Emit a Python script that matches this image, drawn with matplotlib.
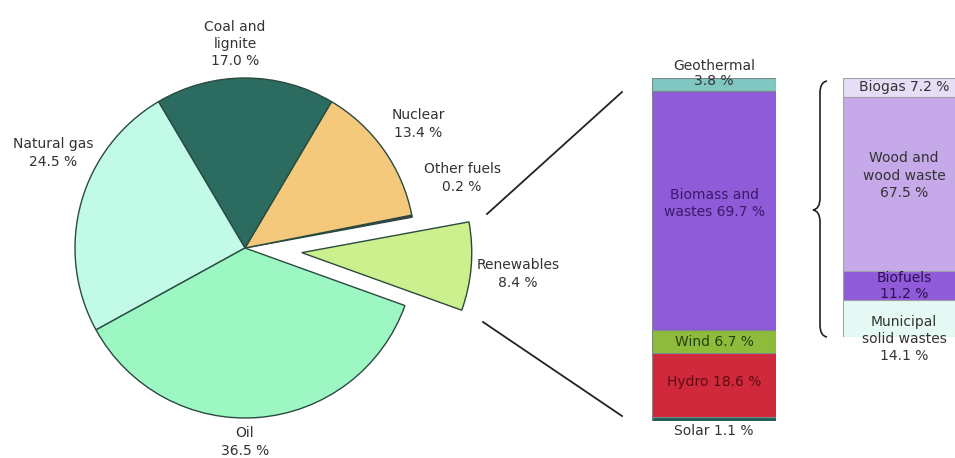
import matplotlib
matplotlib.use("Agg")
import matplotlib.pyplot as plt
from matplotlib.path import Path
from matplotlib.patches import PathPatch

# ---------------- data ----------------
pie_labels = ["Renewables", "Other fuels", "Nuclear", "Coal and\nlignite", "Natural gas", "Oil"]
pie_values = [8.4, 0.2, 13.4, 17.0, 24.5, 36.5]
pie_colors = ["#cdf08e", "#5b2a5e", "#f5c97c", "#2c6b5f", "#c2fae8", "#9df7c2"]

ren_labels = ["Solar", "Hydro", "Wind", "Biomass and\nwastes", "Geothermal"]
ren_values = [1.1, 18.6, 6.7, 69.7, 3.8]
ren_colors = ["#1f5f57", "#d0293b", "#8fbb3c", "#8f5bd8", "#80c6c1"]

bio_labels = ["Municipal\nsolid wastes", "Biofuels", "Wood and\nwood waste", "Biogas"]
bio_values = [14.1, 11.2, 67.5, 7.2]
bio_colors = ["#e6faf5", "#8f5bd8", "#c6a9e9", "#e8ddf6"]

W, H = 955, 458
TXT = "#333333"
FS = 10
LS = 1.3

fig = plt.figure(figsize=(W / 100, H / 100), dpi=100)
fig.patch.set_facecolor("white")


def fax(left, top, width, height):
    """axes from pixel box (top-left origin)"""
    return fig.add_axes([left / W, (H - top - height) / H, width / W, height / H])


# ---------------- pie ----------------
R = 170.0
cx, cy = 245, 248
half = 1.5 * R
axp = fax(cx - half, cy - half, 2 * half, 2 * half)
explode = [0.335, 0, 0, 0, 0, 0]
axp.pie(pie_values, colors=pie_colors, startangle=-19.8, counterclock=True,
        explode=explode, radius=1,
        wedgeprops=dict(edgecolor="#2a4a40", linewidth=1.0))
axp.set_xlim(-1.5, 1.5)
axp.set_ylim(-1.5, 1.5)
axp.set_aspect("equal")
axp.axis("off")

pie_label_px = [(518, 274), (462, 178), (418, 124), (235, 44), (53, 153), (245, 442)]
for lab, val, (px, py) in zip(pie_labels, pie_values, pie_label_px):
    axp.text((px - cx) / R, (cy - py) / R, f"{lab}\n{val:.1f} %", ha="center", va="center",
             fontsize=FS, color=TXT, linespacing=LS)

# ---------------- renewables bar ----------------
axb = fax(652, 78, 124, 343)
bottom = 0
for lab, val, col in zip(ren_labels, ren_values, ren_colors):
    axb.bar(0, val, bottom=bottom, width=1, color=col, edgecolor="#7a8a88", linewidth=0.8)
    bottom += val
axb.set_xlim(-0.5, 0.5)
axb.set_ylim(0, sum(ren_values))
axb.axis("off")

tot = sum(ren_values)
cum = [sum(ren_values[:i]) for i in range(len(ren_values))]
# Solar (below bar)
axb.text(0, -0.03 * tot, f"{ren_labels[0]} {ren_values[0]:.1f} %", ha="center", va="center",
         fontsize=FS, color=TXT, clip_on=False)
axb.text(0, cum[1] + ren_values[1] / 2 + 0.01 * tot, f"{ren_labels[1]} {ren_values[1]:.1f} %",
         ha="center", va="center", fontsize=FS, color="#5a0c14")
axb.text(0, cum[2] + ren_values[2] / 2, f"{ren_labels[2]} {ren_values[2]:.1f} %",
         ha="center", va="center", fontsize=FS, color="#25400a")
axb.text(0, cum[3] + ren_values[3] / 2 + 0.02 * tot, f"{ren_labels[3]} {ren_values[3]:.1f} %",
         ha="center", va="center", fontsize=FS, color="#3a1a6a", linespacing=LS)
axb.text(0, tot + 0.013 * tot, f"{ren_labels[4]}\n{ren_values[4]:.1f} %", ha="center", va="center",
         fontsize=FS, color=TXT, linespacing=1.1, clip_on=False)

# ---------------- biomass breakdown bar ----------------
axc = fax(843, 78, 122, 259)
bottom = 0
for lab, val, col in zip(bio_labels, bio_values, bio_colors):
    axc.bar(0, val, bottom=bottom, width=1, color=col, edgecolor="#a0a0a8", linewidth=0.8)
    bottom += val
axc.set_xlim(-0.5, 0.5)
axc.set_ylim(0, sum(bio_values))
axc.axis("off")
btot = sum(bio_values)
bcum = [sum(bio_values[:i]) for i in range(len(bio_values))]
axc.text(0, bcum[0] + bio_values[0] / 2 - 0.078 * btot, f"{bio_labels[0]}\n{bio_values[0]:.1f} %",
         ha="center", va="center", fontsize=FS, color=TXT, linespacing=LS, clip_on=False)
axc.text(0, bcum[1] + bio_values[1] / 2, f"{bio_labels[1]}\n{bio_values[1]:.1f} %",
         ha="center", va="center", fontsize=FS, color="#2a1050", linespacing=1.15)
axc.text(0, bcum[2] + bio_values[2] / 2 + 0.033 * btot, f"{bio_labels[2]}\n{bio_values[2]:.1f} %",
         ha="center", va="center", fontsize=FS, color=TXT, linespacing=LS)
axc.text(0, bcum[3] + bio_values[3] / 2, f"{bio_labels[3]} {bio_values[3]:.1f} %",
         ha="center", va="center", fontsize=FS, color=TXT)

# ---------------- overlay: connector lines & brace ----------------
axo = fig.add_axes([0, 0, 1, 1])
axo.set_xlim(0, W)
axo.set_ylim(H, 0)
axo.axis("off")
axo.patch.set_visible(False)
axo.plot([487, 622], [214, 92], color="#222222", lw=1.3)
axo.plot([483, 622], [322, 416], color="#222222", lw=1.3)

verts = [(827, 81), (820, 82), (820, 93), (820, 198), (820, 209), (813, 210),
         (820, 211), (820, 222), (820, 325), (820, 336), (827, 337)]
codes = [Path.MOVETO, Path.CURVE3, Path.CURVE3, Path.LINETO, Path.CURVE3, Path.CURVE3,
         Path.CURVE3, Path.CURVE3, Path.LINETO, Path.CURVE3, Path.CURVE3]
axo.add_patch(PathPatch(Path(verts, codes), facecolor="none", edgecolor="#222222", lw=1.2))

fig.savefig("out.png", dpi=100)
